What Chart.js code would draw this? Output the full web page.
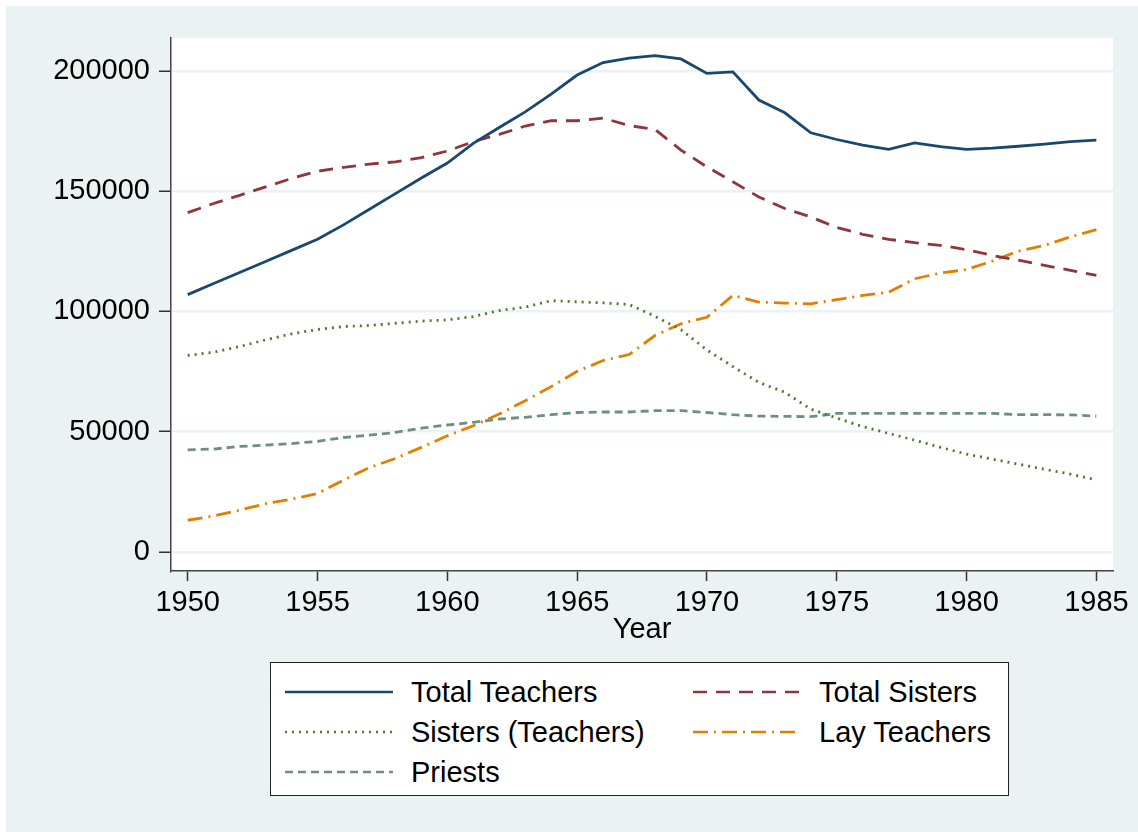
<!DOCTYPE html>
<html>
<head>
<meta charset="utf-8">
<script src="https://cdn.jsdelivr.net/npm/chart.js@4.4.1/dist/chart.umd.min.js"></script>
<style>
  body { margin: 0; background: #fff; }
  .wrap { position: relative; width: 1138px; height: 832px; }
  .legend {
    position: absolute; left: 270px; top: 662px; width: 737px; height: 132px;
    border: 1.5px solid #222; background: #fff;
    font-family: "Liberation Sans", Arial, sans-serif; font-size: 29px; color: #000;
  }
  .legend .item { position: absolute; display: flex; align-items: center; height: 30px; }
  .legend svg { display: block; }
  .legend span { margin-left: 18px; white-space: nowrap; }
</style>
</head>
<body>
<div class="wrap">
  <canvas id="chart"></canvas>
  <div class="legend" id="legend"></div>
</div>
<script>
// school staff counts
const years = [1950, 1951, 1952, 1953, 1954, 1955, 1956, 1957, 1958, 1959,
  1960, 1961, 1962, 1963, 1964, 1965, 1966, 1967, 1968, 1969,
  1970, 1971, 1972, 1973, 1974, 1975, 1976, 1977, 1978, 1979,
  1980, 1981, 1982, 1983, 1984, 1985];

const totalTeachers = [107000, 111600, 116200, 120800, 125400, 130000, 136000, 142500, 149000, 155500,
  161700, 169900, 176500, 183000, 190400, 198300, 203500, 205300, 206400, 205000,
  199000, 199600, 187900, 182600, 174300, 171500, 169200, 167400, 170100, 168500,
  167400, 167900, 168700, 169600, 170600, 171250];

const totalSisters = [141100, 144900, 148300, 151800, 155300, 158300, 159900, 161300, 162200, 164000,
  166700, 170600, 173600, 177100, 179300, 179300, 180400, 177300, 175700, 167100,
  160100, 153900, 147600, 142800, 139300, 134900, 132100, 130000, 128600, 127500,
  125700, 123300, 121300, 119200, 117100, 115000];

const sistersTeaching = [81700, 83100, 85400, 88200, 90700, 92500, 93700, 94200, 95100, 96000,
  96500, 97900, 100400, 101800, 104500, 104000, 103600, 102900, 98000, 92400,
  84000, 77100, 70500, 66400, 59400, 55700, 52100, 49300, 46500, 43500,
  40700, 38600, 36500, 34400, 32400, 30000];

const layTeachers = [13200, 15000, 17400, 20100, 22000, 24300, 29900, 35100, 38900, 43500,
  48300, 52500, 57400, 62900, 68750, 75100, 79600, 82100, 90000, 94900,
  97600, 106700, 103900, 103500, 103200, 104900, 106700, 108000, 113600, 116000,
  117400, 121000, 125100, 127500, 131000, 134000];

const priests = [42500, 42800, 43900, 44400, 45100, 46000, 47600, 48600, 49700, 51500,
  52800, 53900, 55300, 56000, 57100, 58000, 58200, 58200, 58750, 58750,
  58000, 57100, 56500, 56400, 56250, 57600, 57600, 57600, 57600, 57600,
  57600, 57600, 57100, 57100, 57000, 56500];

const xTicks = [1950, 1955, 1960, 1965, 1970, 1975, 1980, 1985];
const yTicks = [0, 50000, 100000, 150000, 200000];

const seriesNames = ["Total Teachers", "Total Sisters", "Sisters (Teachers)", "Lay Teachers", "Priests"];
const seriesValues = [totalTeachers, totalSisters, sistersTeaching, layTeachers, priests];
const seriesColors = ["#1a476f", "#90353b", "#55752f", "#e37e00", "#6e8e84"];
const seriesDashes = [[], [14, 9], [2, 5], [15, 6, 2, 6], [8, 5]];

const canvas = document.getElementById("chart");
canvas.width = 1138;
canvas.height = 832;

Chart.defaults.font.family = '"Liberation Sans", Arial, sans-serif';
Chart.defaults.color = "#000";

const backdrop = {
  id: "backdrop",
  beforeDraw(chart) {
    const { ctx, chartArea } = chart;
    ctx.save();
    ctx.fillStyle = "#fff";
    ctx.fillRect(0, 0, chart.width, chart.height);
    ctx.fillStyle = "#eaf2f3";
    ctx.fillRect(6, 6, chart.width - 6, chart.height - 6);
    ctx.fillStyle = "#fff";
    ctx.fillRect(chartArea.left, chartArea.top, chartArea.right - chartArea.left, chartArea.bottom - chartArea.top);
    ctx.restore();
  },
};

const chart = new Chart(canvas, {
  type: "line",
  data: {
    datasets: seriesNames.map((name, i) => ({
      label: name,
      data: years.map((yr, j) => ({ x: yr, y: seriesValues[i][j] })),
      borderColor: seriesColors[i],
      backgroundColor: seriesColors[i],
      borderDash: seriesDashes[i],
      borderWidth: 2.8,
      pointRadius: 0,
      tension: 0,
      fill: false,
    })),
  },
  options: {
    responsive: false,
    animation: false,
    layout: { padding: { left: 0, right: 25, top: 38, bottom: 181 } },
    plugins: {
      legend: { display: false },
      tooltip: { enabled: false },
    },
    scales: {
      x: {
        type: "linear",
        min: 1949.357,
        max: 1985.64,
        afterBuildTicks: (scale) => { scale.ticks = xTicks.map((v) => ({ value: v })); },
        afterFit: (scale) => { scale.height = 80; },
        grid: { drawOnChartArea: false, tickLength: 10, tickColor: "#333", tickWidth: 1.5 },
        border: { display: true, color: "#444", width: 1.5 },
        ticks: { font: { size: 29 }, padding: 5, maxRotation: 0, callback: (v) => String(v) },
        title: { display: true, text: "Year", font: { size: 29 }, color: "#000" },
      },
      y: {
        min: -7900,
        max: 213700,
        afterBuildTicks: (scale) => { scale.ticks = yTicks.map((v) => ({ value: v })); },
        afterFit: (scale) => { scale.width = 171; },
        grid: { color: "#eaf2f3", lineWidth: 2.5, tickLength: 12, tickColor: "#333", tickWidth: 1.5 },
        border: { display: true, color: "#444", width: 1.5 },
        ticks: { font: { size: 29 }, padding: 9, callback: (v) => String(v) },
      },
    },
  },
  plugins: [backdrop],
});

// legend box, two columns like the original
const legendEl = document.getElementById("legend");
const colX = [14, 422];
const rowY = [14, 54, 94];
chart.data.datasets.forEach((ds, i) => {
  const item = document.createElement("div");
  item.className = "item";
  item.style.left = colX[i % 2] + "px";
  item.style.top = rowY[Math.floor(i / 2)] + "px";
  const dash = ds.borderDash.length ? ds.borderDash.join(" ") : "none";
  item.innerHTML =
    `<svg width="108" height="10"><line x1="0" y1="5" x2="108" y2="5" stroke="${ds.borderColor}" stroke-width="2.6" stroke-dasharray="${dash}"/></svg>` +
    `<span>${ds.label}</span>`;
  legendEl.appendChild(item);
});
</script>
</body>
</html>
